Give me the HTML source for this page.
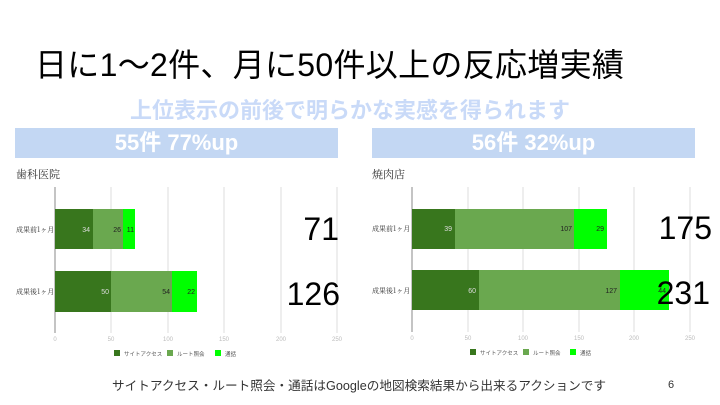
<!DOCTYPE html>
<html><head><meta charset="utf-8"><style>
body{margin:0;width:720px;height:405px;background:#fff;position:relative;overflow:hidden;font-family:"Liberation Sans","Noto Sans CJK JP",sans-serif;}
.a{position:absolute;white-space:nowrap;}
</style></head><body>
<div class="a" style="left:35px;top:40px;font-size:32px;letter-spacing:0.3px;color:#000;">日に1～2件、月に50件以上の反応増実績</div>
<div class="a" style="left:130px;top:93px;font-size:22px;font-weight:bold;color:#c9daf8;">上位表示の前後で明らかな実感を得られます</div>
<div class="a" style="left:15px;top:128px;width:323px;height:30px;background:#c3d7f3;color:#fff;font-weight:bold;font-size:22px;text-align:center;line-height:30px;">55件 77%up</div>
<div class="a" style="left:372px;top:128px;width:323px;height:30px;background:#c3d7f3;color:#fff;font-weight:bold;font-size:22px;text-align:center;line-height:30px;">56件 32%up</div>
<svg class="a" style="left:0;top:0" width="720" height="405" font-family="Liberation Sans,Noto Sans CJK JP,sans-serif">
<text x="16" y="178" font-size="11" fill="#333" font-family="Noto Serif CJK SC,serif">歯科医院</text>
<g stroke="#ddd"><line x1="111" y1="187" x2="111" y2="333"/><line x1="168" y1="187" x2="168" y2="333"/><line x1="224" y1="187" x2="224" y2="333"/><line x1="281" y1="187" x2="281" y2="333"/><line x1="337" y1="187" x2="337" y2="333"/></g>
<line x1="55" y1="187" x2="55" y2="333" stroke="#888"/>
<rect x="55" y="209" width="38" height="40" fill="#38761d"/><rect x="93" y="209" width="30" height="40" fill="#6aa84f"/><rect x="123" y="209" width="12" height="40" fill="#00ff00"/>
<rect x="55" y="271" width="56" height="41" fill="#38761d"/><rect x="111" y="271" width="61" height="41" fill="#6aa84f"/><rect x="172" y="271" width="25" height="41" fill="#00ff00"/>
<g font-size="7"><text x="90" y="232" fill="#ddd" text-anchor="end">34</text><text x="121" y="232" fill="#222" text-anchor="end">26</text><text x="134" y="232" fill="#222" text-anchor="end">11</text>
<text x="109" y="294" fill="#ddd" text-anchor="end">50</text><text x="170" y="294" fill="#222" text-anchor="end">54</text><text x="195" y="294" fill="#222" text-anchor="end">22</text>
<text x="16" y="232" fill="#333" font-family="Noto Serif CJK SC,serif">成果前1ヶ月</text><text x="16" y="294" fill="#333" font-family="Noto Serif CJK SC,serif">成果後1ヶ月</text></g>
<g font-size="6" fill="#bbb" text-anchor="middle"><text x="55" y="341">0</text><text x="111" y="341">50</text><text x="168" y="341">100</text><text x="224" y="341">150</text><text x="281" y="341">200</text><text x="337" y="341">250</text></g>
<rect x="114" y="350" width="6" height="6" fill="#38761d"/><rect x="167" y="350" width="6" height="6" fill="#6aa84f"/><rect x="215" y="350" width="6" height="6" fill="#00ff00"/>
<g font-size="5.5" fill="#555"><text x="124" y="356">サイトアクセス</text><text x="177" y="356">ルート照会</text><text x="225" y="356">通話</text></g>
<g font-size="32" fill="#000" text-anchor="end"><text x="339" y="240">71</text><text x="340" y="305">126</text></g>

<text x="372" y="178" font-size="11" fill="#333" font-family="Noto Serif CJK SC,serif">焼肉店</text>
<g stroke="#ddd"><line x1="468" y1="187" x2="468" y2="332"/><line x1="523" y1="187" x2="523" y2="332"/><line x1="579" y1="187" x2="579" y2="332"/><line x1="634" y1="187" x2="634" y2="332"/><line x1="690" y1="187" x2="690" y2="332"/></g>
<line x1="412" y1="187" x2="412" y2="332" stroke="#888"/>
<rect x="412" y="209" width="43" height="40" fill="#38761d"/><rect x="455" y="209" width="119" height="40" fill="#6aa84f"/><rect x="574" y="209" width="33" height="40" fill="#00ff00"/>
<rect x="412" y="270" width="67" height="40" fill="#38761d"/><rect x="479" y="270" width="141" height="40" fill="#6aa84f"/><rect x="620" y="270" width="49" height="40" fill="#00ff00"/>
<g font-size="7"><text x="452" y="231" fill="#ddd" text-anchor="end">39</text><text x="572" y="231" fill="#222" text-anchor="end">107</text><text x="604" y="231" fill="#222" text-anchor="end">29</text>
<text x="476" y="293" fill="#ddd" text-anchor="end">60</text><text x="617" y="293" fill="#222" text-anchor="end">127</text><text x="666" y="293" fill="#222" text-anchor="end">44</text>
<text x="372" y="231" fill="#333" font-family="Noto Serif CJK SC,serif">成果前1ヶ月</text><text x="372" y="293" fill="#333" font-family="Noto Serif CJK SC,serif">成果後1ヶ月</text></g>
<g font-size="6" fill="#bbb" text-anchor="middle"><text x="412" y="340">0</text><text x="468" y="340">50</text><text x="523" y="340">100</text><text x="579" y="340">150</text><text x="634" y="340">200</text><text x="690" y="340">250</text></g>
<rect x="470" y="349" width="6" height="6" fill="#38761d"/><rect x="523" y="349" width="6" height="6" fill="#6aa84f"/><rect x="570" y="349" width="6" height="6" fill="#00ff00"/>
<g font-size="5.5" fill="#555"><text x="480" y="355">サイトアクセス</text><text x="533" y="355">ルート照会</text><text x="580" y="355">通話</text></g>
<g font-size="32" fill="#000" text-anchor="end"><text x="712" y="239">175</text><text x="710" y="304">231</text></g>

<text x="112" y="390" font-size="12.5" fill="#333" textLength="494" lengthAdjust="spacingAndGlyphs">サイトアクセス・ルート照会・通話はGoogleの地図検索結果から出来るアクションです</text>
<text x="668" y="388" font-size="11" fill="#333">6</text>
</svg>
</body></html>
